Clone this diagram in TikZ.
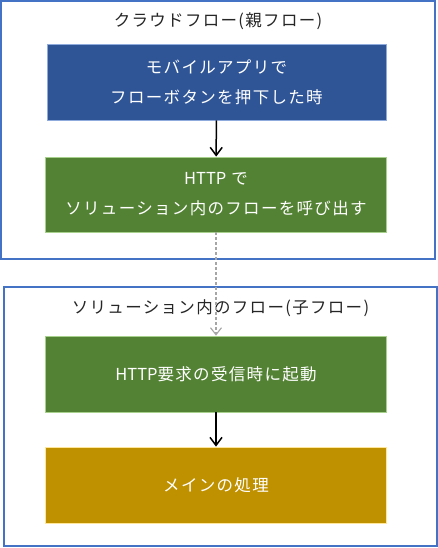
\documentclass[tikz,border=0pt]{standalone}
\usepackage{fontspec}
\newfontfamily\jpfont[LetterSpace=8]{Noto Sans CJK JP}
\newfontfamily\latinfont{Noto Sans CJK JP}
\newcommand{\latinword}[1]{{\latinfont #1}}
\usetikzlibrary{arrows.meta}
\definecolor{frameblue}{HTML}{4472C4}
\definecolor{boxblue}{HTML}{2F5597}
\definecolor{boxblueline}{HTML}{8FAADC}
\definecolor{boxgreen}{HTML}{548235}
\definecolor{boxgreenline}{HTML}{A9D18E}
\definecolor{boxgold}{HTML}{BF9000}
\definecolor{boxgoldline}{HTML}{FFE699}
\definecolor{titlegray}{HTML}{262626}
\definecolor{dashgray}{HTML}{A6A6A6}
\begin{document}
\begin{tikzpicture}[x=1pt,y=-1pt,
  framebox/.style={draw=frameblue,line width=2pt},
  titletext/.style={font=\jpfont\fontsize{16.5}{18}\selectfont,text=titlegray,inner sep=0pt},
  stepbox/.style={minimum width=341pt,minimum height=75pt,inner sep=0pt,line width=0.8pt,
    text=white,align=center,font=\jpfont\fontsize{16.5}{30}\selectfont},
  flowarrow/.style={-{Straight Barb[length=8pt,width=12pt]},line width=1.5pt,black},
  callarrow/.style={-{Straight Barb[length=7pt,width=11pt]},line width=1.1pt,dashgray,dash pattern=on 3pt off 2pt}
]
\useasboundingbox (0,0) rectangle (438,548);
\fill[white] (0,0) rectangle (438,548);
% frames
\draw[framebox] (1,1) rectangle (435,259);
\draw[framebox] (4,287) rectangle (437,546);
\node[titletext] (t1) at (218,21) {クラウドフロー(親フロー)};
\node[titletext] (t2) at (220.5,308) {ソリューション内のフロー(子フロー)};
% boxes
\node[stepbox,fill=boxblue,draw=boxblueline,minimum width=339pt,minimum height=76pt] (mobile) at (216.5,82)
  {モバイルアプリで\\フローボタンを押下した時};
\node[stepbox,fill=boxgreen,draw=boxgreenline] (http) at (216,194.5)
  {\latinword{HTTP} で\\ソリューション内のフローを呼び出す};
\node[stepbox,fill=boxgreen,draw=boxgreenline,minimum height=76pt] (recv) at (216,374)
  {\latinword{HTTP}要求の受信時に起動};
\node[stepbox,fill=boxgold,draw=boxgoldline,minimum height=76pt] (main) at (216,485)
  {メインの処理};
% connectors
\draw[flowarrow] (mobile) -- (http);
\draw[flowarrow] (recv) -- (main);
\draw[callarrow] (http) -- (recv);
\end{tikzpicture}
\end{document}
